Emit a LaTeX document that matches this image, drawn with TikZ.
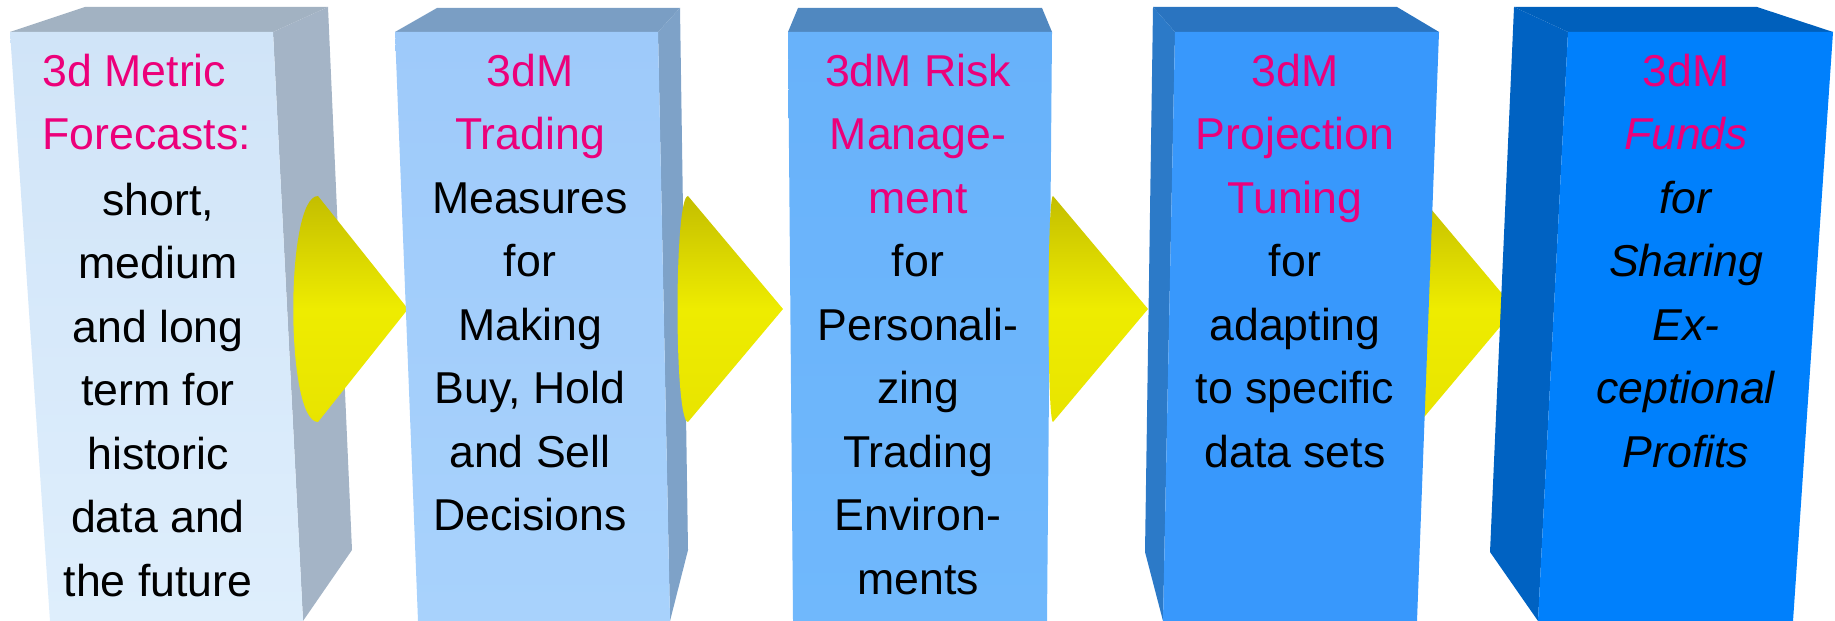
\documentclass[tikz,border=0pt]{standalone}
\usepackage{fontspec}
\setmainfont{Liberation Sans}
\definecolor{headpink}{RGB}{236,0,122}
% face colours, box 1 to 5
\definecolor{topA}{RGB}{162,178,194}
\definecolor{sideA}{RGB}{164,180,198}
\definecolor{frontAt}{RGB}{208,228,248}
\definecolor{frontAb}{RGB}{222,238,252}
\definecolor{topB}{RGB}{122,158,196}
\definecolor{sideB}{RGB}{126,162,200}
\definecolor{frontBt}{RGB}{158,202,250}
\definecolor{frontBb}{RGB}{168,210,252}
\definecolor{topC}{RGB}{80,136,192}
\definecolor{frontCt}{RGB}{104,178,250}
\definecolor{frontCb}{RGB}{112,184,252}
\definecolor{topD}{RGB}{42,116,192}
\definecolor{sideD}{RGB}{44,122,200}
\definecolor{frontD}{RGB}{56,152,252}
\definecolor{topE}{RGB}{0,96,188}
\definecolor{sideE}{RGB}{0,98,194}
\definecolor{frontE}{RGB}{0,128,252}
\definecolor{conedark}{RGB}{196,190,0}
\definecolor{conemid}{RGB}{238,236,0}
\definecolor{conelow}{RGB}{232,228,0}
\newcommand{\hd}[1]{\textcolor{headpink}{#1}}
\tikzset{
  boxtext/.style={align=center, inner sep=0pt, anchor=north,
    font=\fontsize{12.7}{18.07}\selectfont},
  cone/.style={top color=conedark, bottom color=conelow, middle color=conemid},
}
\begin{document}
\begin{tikzpicture}[x=0.1mm, y=-0.1mm]
    \useasboundingbox (0,0) rectangle (1835,621);

    % box 1
    \fill[topA] (10,32) -- (85,7) -- (328,7) -- (273,32) -- cycle;
    \fill[sideA] (273,32) -- (328,7) -- (352,550) -- (303,621) -- cycle;
    \shade[top color=frontAt, bottom color=frontAb] (10,32) -- (273,32) -- (303,621) -- (50,621) -- cycle;
    % cone 1
    \shade[cone] (318,196) .. controls (285,196) and (285,422) .. (318,422) -- (408,309) -- cycle;

    % box 2
    \fill[topB] (395,32) -- (437,8) -- (680,8) -- (658,32) -- cycle;
    \fill[sideB] (658,32) -- (680,8) -- (688,550) -- (670,621) -- cycle;
    \shade[top color=frontBt, bottom color=frontBb] (395,32) -- (658,32) -- (670,621) -- (418,621) -- cycle;
    % cone 2
    \shade[cone] (688,196) .. controls (674,196) and (674,422) .. (688,422) -- (783,309) -- cycle;

    % box 3
    \fill[topC] (788,32) -- (798,8) -- (1042,8) -- (1052,32) -- cycle;
    \shade[top color=frontCt, bottom color=frontCb] (788,32) -- (1052,32) -- (1047,621) -- (793,621) -- cycle;
    % cone 3 and cone 4
    \shade[cone] (1053,196) .. controls (1047,196) and (1047,422) .. (1053,422) -- (1148,309) -- cycle;
    \shade[cone] (1420,196) .. controls (1408,196) and (1408,422) .. (1420,422) -- (1515,309) -- cycle;

    % box 4
    \fill[topD] (1153,7) -- (1397,7) -- (1439,32) -- (1175,32) -- cycle;
    \fill[sideD] (1153,7) -- (1175,32) -- (1163,621) -- (1145,552) -- cycle;
    \fill[frontD] (1175,32) -- (1439,32) -- (1417,621) -- (1163,621) -- cycle;

    % box 5
    \fill[topE] (1514,7) -- (1757,7) -- (1833,32) -- (1568,32) -- cycle;
    \fill[sideE] (1514,7) -- (1568,32) -- (1538,621) -- (1490,552) -- cycle;
    \fill[frontE] (1568,32) -- (1833,32) -- (1793,621) -- (1538,621) -- cycle;

    % texts
    \node[boxtext, align=left, anchor=north west] (forecasthead) at (42,53) {\hd{3d Metric}\\ \hd{Forecasts:}};
    \node[boxtext] (forecast) at (158,182) {short,\\ medium\\ and long\\ term for\\ historic\\ data and\\ the future};
    \node[boxtext] (trading) at (530,53) {\hd{3dM}\\ \hd{Trading}\\ Measures\\ for\\ Making\\ Buy, Hold\\ and Sell\\ Decisions};
    \node[boxtext] (risk) at (918,53) {\hd{3dM Risk}\\ \hd{Manage-}\\ \hd{ment}\\ for\\ Personali-\\ zing\\ Trading\\ Environ-\\ ments};
    \node[boxtext] (tuning) at (1295,53) {\hd{3dM}\\ \hd{Projection}\\ \hd{Tuning}\\ for\\ adapting\\ to specific\\ data sets};
    \node[boxtext] (funds) at (1686,53) {\hd{3dM}\\ \hd{\textit{Funds}}\\ \textit{for}\\ \textit{Sharing}\\ \textit{Ex-}\\ \textit{ceptional}\\ \textit{Profits}};
\end{tikzpicture}
\end{document}
